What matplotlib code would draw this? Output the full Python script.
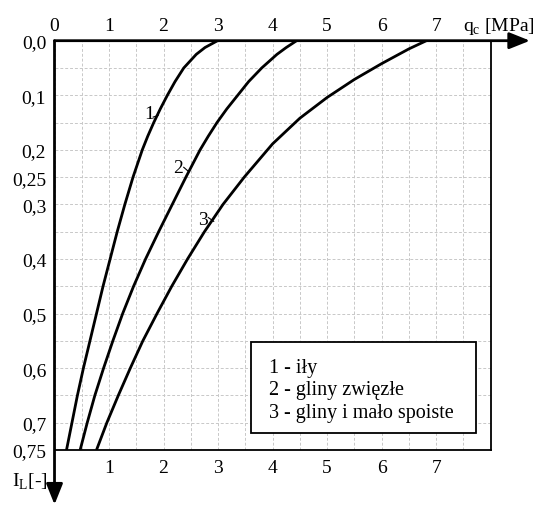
import numpy as np
import matplotlib
matplotlib.use("Agg")
import matplotlib.pyplot as plt
from matplotlib.patches import Rectangle

plt.rcParams['font.family'] = ['Liberation Serif', 'DejaVu Serif']
plt.rcParams['mathtext.fontset'] = 'custom'
plt.rcParams['mathtext.rm'] = 'Liberation Serif'

# readings: q_c [MPa] against I_L [-]
il_1 = [0.0, 0.0125, 0.025, 0.05, 0.075, 0.1, 0.125, 0.15, 0.175, 0.2, 0.25, 0.3, 0.35, 0.4, 0.45, 0.5, 0.55, 0.6, 0.65, 0.7, 0.75]
qc_1 = [2.99, 2.76, 2.60, 2.37, 2.21, 2.07, 1.94, 1.82, 1.71, 1.61, 1.44, 1.29, 1.15, 1.02, 0.89, 0.77, 0.65, 0.53, 0.42, 0.32, 0.22]

il_2 = [0.0, 0.0125, 0.025, 0.05, 0.075, 0.1, 0.125, 0.15, 0.175, 0.2, 0.25, 0.3, 0.35, 0.4, 0.45, 0.5, 0.55, 0.6, 0.65, 0.7, 0.75]
qc_2 = [4.44, 4.25, 4.08, 3.80, 3.56, 3.36, 3.16, 2.98, 2.82, 2.67, 2.41, 2.16, 1.91, 1.67, 1.45, 1.25, 1.07, 0.90, 0.74, 0.60, 0.47]

il_3 = [0.0, 0.015, 0.042, 0.071, 0.104, 0.142, 0.189, 0.25, 0.3, 0.35, 0.4, 0.45, 0.5, 0.55, 0.6, 0.65, 0.7, 0.75]
qc_3 = [6.82, 6.50, 6.00, 5.50, 5.00, 4.50, 4.00, 3.48, 3.09, 2.75, 2.44, 2.15, 1.88, 1.62, 1.39, 1.17, 0.96, 0.77]

ytick_vals = [0.0, 0.1, 0.2, 0.25, 0.3, 0.4, 0.5, 0.6, 0.7, 0.75]
ytick_labels = ['0,0', '0,1', '0,2', '0,25', '0,3', '0,4', '0,5', '0,6', '0,7', '0,75']
top_labels = [0, 1, 2, 3, 4, 5, 6, 7]
bottom_labels = [1, 2, 3, 4, 5, 6, 7]
legend_lines = ['1 - iły', '2 - gliny zwięzłe', '3 - gliny i mało spoiste']

fs = 14

fig = plt.figure(figsize=(5.36, 5.06), dpi=100)
ax = fig.add_axes([0.1017, 0.1087, 0.9155 - 0.1017, 0.9176 - 0.1087])
ax.set_xlim(0, 8)
ax.set_ylim(0.75, 0)

# grid
ax.set_xticks(np.arange(0, 8.01, 0.5))
ax.set_xticklabels([])
ax.set_yticks(ytick_vals)
ax.set_yticklabels(ytick_labels, fontsize=fs)
ax.set_yticks(np.arange(0, 0.751, 0.05), minor=True)
ax.tick_params(axis='both', which='both', length=0)
ax.tick_params(axis='y', pad=6)
ax.grid(True, which='both', color='#c8c8c8', linestyle=(0, (3, 2)), lw=0.7)

for s in ['top', 'left']:
    ax.spines[s].set_visible(False)
ax.spines['right'].set_linewidth(1.3)
ax.spines['bottom'].set_linewidth(1.3)

# axes with arrows
ax.annotate('', xy=(8.72, 0), xytext=(0, 0), annotation_clip=False,
            arrowprops=dict(arrowstyle='-|>,head_length=0.7,head_width=0.28', lw=2,
                            color='k', mutation_scale=18, shrinkA=0, shrinkB=0))
ax.annotate('', xy=(0, 0.85), xytext=(0, 0), annotation_clip=False,
            arrowprops=dict(arrowstyle='-|>,head_length=0.7,head_width=0.28', lw=2,
                            color='k', mutation_scale=18, shrinkA=0, shrinkB=0))

# curves
for q, y in ((qc_1, il_1), (qc_2, il_2), (qc_3, il_3)):
    ax.plot(q, y, color='k', lw=2, solid_joinstyle='round', solid_capstyle='butt', zorder=3)

# curve labels
ax.text(1.74, 0.133, '1', fontsize=fs, ha='center', va='center')
ax.plot([1.81, 1.90], [0.140, 0.137], color='k', lw=0.8)
ax.text(2.27, 0.232, '2', fontsize=fs, ha='center', va='center')
ax.plot([2.37, 2.45], [0.232, 0.239], color='k', lw=0.8)
ax.text(2.73, 0.327, '3', fontsize=fs, ha='center', va='center')
ax.plot([2.82, 2.92], [0.324, 0.331], color='k', lw=0.8)

# top and bottom scale numbers
for v in top_labels:
    ax.text(v, -0.027, str(v), fontsize=fs, ha='center', va='center', clip_on=False)
for v in bottom_labels:
    ax.text(v, 0.782, str(v), fontsize=fs, ha='center', va='center', clip_on=False)

ax.text(7.49, -0.027, r'q$_{\rm c}$ [MPa]', fontsize=fs, ha='left', va='center', clip_on=False)
ax.text(-0.78, 0.806, r'I$_{\rm L}$[-]', fontsize=fs, ha='left', va='center', clip_on=False)

# legend box
ax.add_patch(Rectangle((3.6, 0.552), 4.13, 0.1665, facecolor='white',
                       edgecolor='k', lw=1.3, zorder=4))
for i, t in enumerate(legend_lines):
    ax.text(3.94, 0.599 + i * 0.041, t, fontsize=14.5, ha='left', va='center', zorder=5)

fig.savefig('out.png', dpi=100)
